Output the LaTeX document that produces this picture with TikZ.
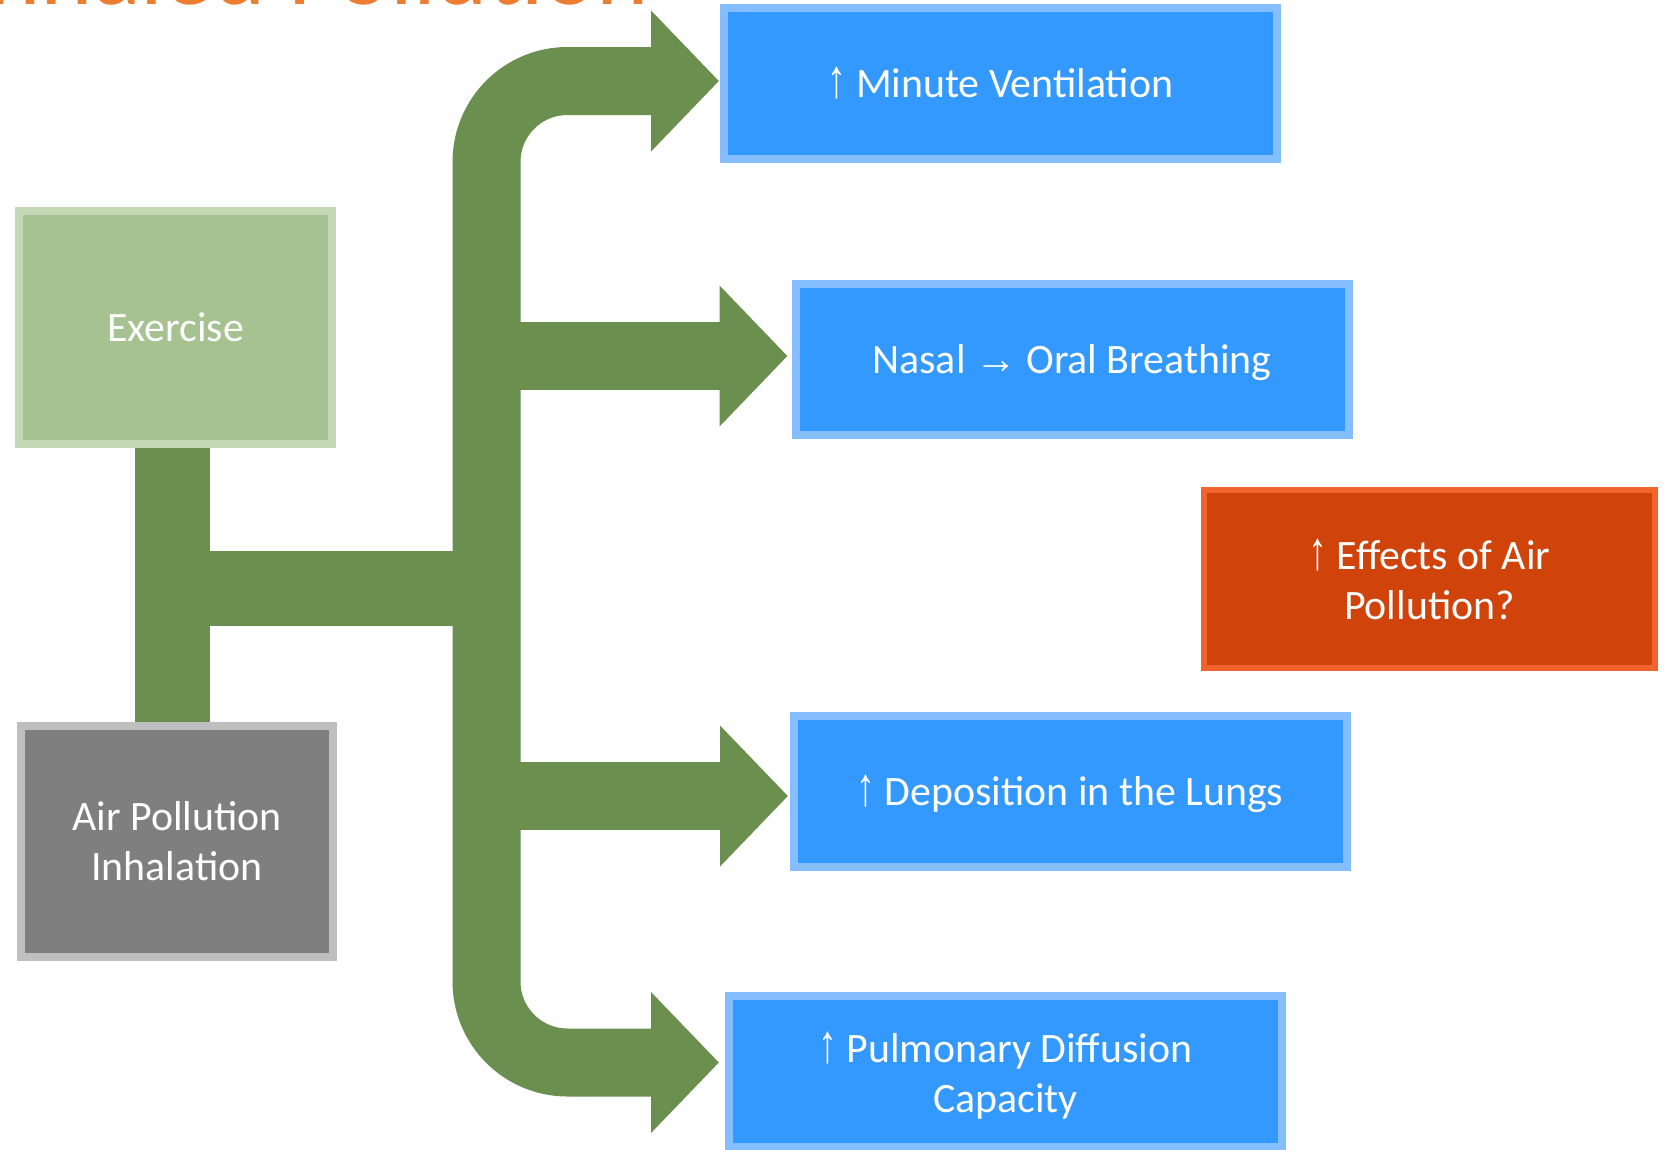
\documentclass[tikz,border=0pt]{standalone}
\usepackage{fontspec}
\setmainfont{Carlito}
\newfontfamily\arrowfont{Liberation Sans}
\usetikzlibrary{arrows.meta,backgrounds}
\definecolor{gr}{HTML}{6A8F4E}
\definecolor{bluefill}{HTML}{3399FF}
\definecolor{blueborder}{HTML}{84BEFF}
\definecolor{exfill}{HTML}{A5C290}
\definecolor{exborder}{HTML}{C5D8B6}
\definecolor{greyfill}{HTML}{7F7F7F}
\definecolor{greyborder}{HTML}{BFBFBF}
\definecolor{redfill}{HTML}{D0430B}
\definecolor{redborder}{HTML}{F2642D}
\definecolor{titleorange}{HTML}{ED7D31}
\tikzset{gtip/.tip={Triangle[length=68bp,width=137bp]}}
\newcommand{\upa}{\scalebox{0.9}[1.3]{\arrowfont ↑}}
\newcommand{\rta}{{\arrowfont →}}
\begin{document}
\begin{tikzpicture}[x=1bp,y=-1bp,
  boxtext/.style={text=white, inner sep=0pt, align=center,
    font=\fontsize{42}{50}\selectfont},
  box/.style={boxtext, draw=#1, line width=8bp},
  oneline/.style={text height=36bp, text depth=8bp},
  bluebox/.style={box=blueborder, fill=bluefill, minimum width=553bp, minimum height=151bp},
  gline/.style={draw=gr, line width=68bp, line cap=butt, line join=miter}
]
\useasboundingbox (0,0) rectangle (1673,1149);
\clip (0,0) rectangle (1673,1149);

% title (cut off at the top)
\node[anchor=base east, inner sep=0pt, text=titleorange,
      font=\fontsize{100}{120}\selectfont] (title) at (649,4.5) {Inhaled Pollution};

% boxes
\node[box=exborder, oneline, fill=exfill, minimum width=313bp, minimum height=233bp] (ex) at (175.5,327.5) {Exercise};
\node[box=greyborder, fill=greyfill, minimum width=312bp, minimum height=231bp] (ap) at (177,841.5) {Air Pollution\\Inhalation};
\node[bluebox, oneline] (mv) at (1000.5,83.5) {\upa{} Minute Ventilation};
\node[bluebox, oneline] (nb) at (1072,359) {Nasal \rta{} Oral Breathing};
\node[bluebox, oneline] (dl) at (1070,791.5) {\upa{} Deposition in the Lungs};
\node[bluebox] (pd) at (1005.5,1071.5) {};
\node[boxtext] (pdtext) at ([yshift=-4bp]pd.center) {\upa{} Pulmonary Diffusion\\Capacity};
\node[box=redborder, fill=redfill, line width=6bp, minimum width=451bp, minimum height=178bp] (ef) at (1429.5,579) {\upa{} Effects of Air\\Pollution?};

% connector points
\coordinate (tk) at (486.5,588.5);
\coordinate (j) at (172.5,588.5);
\coordinate (tA) at ([xshift=-1bp,yshift=2.5bp]mv.west);
\coordinate (tB) at ([xshift=-6bp,yshift=9bp]pd.west);
\coordinate (tN) at ([xshift=-4bp,yshift=3bp]nb.west);
\coordinate (tD) at ([xshift=-1.5bp,yshift=-4.5bp]dl.west);

\begin{scope}[on background layer]
  \draw[gline, line width=75bp] (j |- ex.south) -- (j |- ap.north);
  \draw[gline, line width=75bp] (j) -- (tk);
  \draw[gline, rounded corners=81bp, gtip-gtip] (tA) -| (tk) |- (tB);
  \draw[gline, -gtip] (tk |- tN) -- (tN);
  \draw[gline, -gtip] (tk |- tD) -- (tD);
\end{scope}
\end{tikzpicture}
\end{document}
